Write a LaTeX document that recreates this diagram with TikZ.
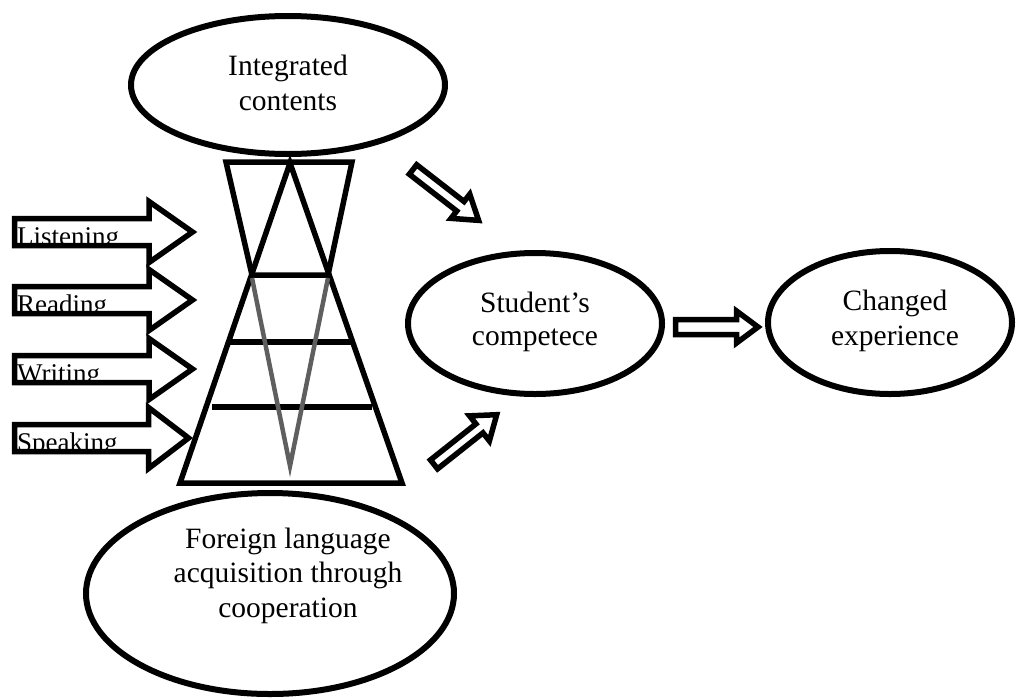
\documentclass[tikz,border=0pt]{standalone}
\usepackage{fontspec}
\setmainfont{Liberation Serif}
\usetikzlibrary{shapes.geometric}
\definecolor{vgrey}{RGB}{95,95,95}
\tikzset{
  bubble/.style={draw, ellipse, line width=6pt, inner sep=0pt},
  bigtext/.style={font=\fontsize{29.5}{35}\selectfont, anchor=base, inner sep=0pt},
  skilltext/.style={font=\fontsize{27}{32}\selectfont, anchor=base west, inner sep=0pt},
  frame/.style={line width=5.5pt},
  blockarrow/.style={line width=5.5pt, miter limit=10},
}
% tail x, tail y, angle, length, shaft half width, head half width, head length
\newcommand{\barrow}[7]{%
  \draw[blockarrow,shift={(#1,#2)},rotate=#3] (0,-#5) -- ({#4-#7},-#5) -- ({#4-#7},-#6)
    -- (#4,0) -- ({#4-#7},#6) -- ({#4-#7},#5) -- (0,#5) -- cycle;}
\begin{document}
\begin{tikzpicture}[x=1pt,y=-1pt]
\useasboundingbox (0,0) rectangle (1016,699);

% ellipses
\node[bubble, minimum width=314pt, minimum height=138pt] (integ) at (288,85) {};
\node[bubble, minimum width=368pt, minimum height=201pt] (foreign) at (270,593.5) {};
\node[bubble, minimum width=254pt, minimum height=141pt] (student) at (535,323.5) {};
\node[bubble, minimum width=244pt, minimum height=143pt] (changed) at (890,322.5) {};

\node[bigtext] (t1a) at (288,75) {Integrated};
\node[bigtext] (t1b) at (288,110) {contents};
\node[bigtext] (t2a) at (288,548) {Foreign language};
\node[bigtext] (t2b) at (288,582) {acquisition through};
\node[bigtext] (t2c) at (288,617) {cooperation};
\node[bigtext] (t3a) at (535,312) {Student’s};
\node[bigtext] (t3b) at (535,345) {competece};
\node[bigtext] (t4a) at (895,310) {Changed};
\node[bigtext] (t4b) at (895,345) {experience};

% pyramid
\draw[frame] (290,163) -- (180,483) -- (402,483) -- cycle;
\draw[frame] (226,162) -- (352,162) -- (328,275) -- (252,275) -- cycle;
\draw[frame] (229,342) -- (353,342);
\draw[frame] (212,407) -- (372,407);
\draw[line width=4.5pt, vgrey] (252,278) -- (290,466) -- (328,278);

% skill arrows with clipped labels
\begin{scope}
  \clip (17,221) rectangle (147,243);
  \node[skilltext] (listening) at (17,245) {Listening};
\end{scope}
\begin{scope}
  \clip (17,289) rectangle (147,311);
  \node[skilltext] (reading) at (17,313) {Reading};
\end{scope}
\begin{scope}
  \clip (17,358) rectangle (147,380);
  \node[skilltext] (writing) at (17,382) {Writing};
\end{scope}
\begin{scope}
  \clip (17,427) rectangle (147,449);
  \node[skilltext] (speaking) at (17,451) {Speaking};
\end{scope}
\barrow{14.5}{232}{0}{178}{13.5}{30.5}{43.5}
\barrow{14.5}{300}{0}{178}{13.5}{30.5}{43.5}
\barrow{14.5}{369}{0}{178}{13.5}{30.5}{43.5}
\barrow{14.5}{438}{0}{174}{13.5}{30.5}{40}

% arrows to and from student's competence
\barrow{413}{169.5}{-37.8}{83}{6}{15.3}{23}
\barrow{434}{464.4}{38.4}{80}{5.7}{16}{22}
\barrow{675.5}{327}{0}{82.5}{7.5}{16}{21.5}
\end{tikzpicture}
\end{document}
